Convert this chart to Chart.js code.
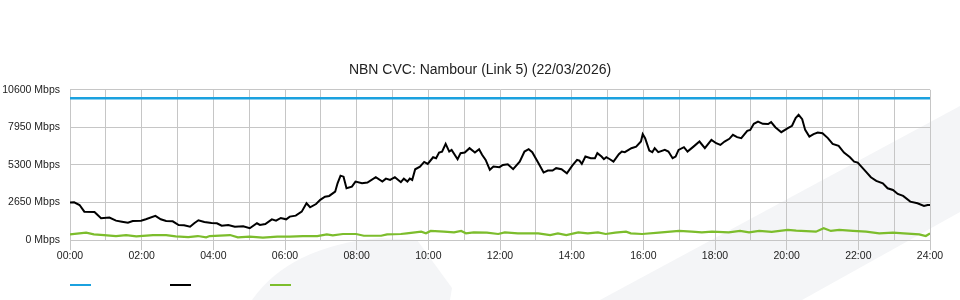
<!DOCTYPE html>
<html>
<head>
<meta charset="utf-8">
<title>NBN CVC: Nambour (Link 5)</title>
<script src="https://cdn.jsdelivr.net/npm/chart.js@4.4.1/dist/chart.umd.min.js"></script>
<style>
  body { margin: 0; background: #fff; }
  canvas { display: block; }
</style>
</head>
<body>
<canvas id="cvcChart" width="960" height="300"></canvas>
<script>
// chart text
var chartTitle = 'NBN CVC: Nambour (Link 5) (22/03/2026)';

// y axis ticks (Mbps)
var yTicks = [0, 2650, 5300, 7950, 10600];

// capacity (blue)
var capMinutes = [0, 1440];
var capMbps = [10000, 10000];

// download traffic (black), minutes after midnight
var downMinutes = [0, 7, 16, 24, 41, 52, 66, 77, 87, 97, 105, 119, 127, 143, 152, 161, 172, 182, 191, 201,
  208, 215, 225, 237, 246, 254, 265, 276, 290, 301, 313, 318, 327, 338, 345, 353, 362, 368, 378, 388,
  396, 402, 412, 419, 427, 434, 444, 448, 453, 458, 463, 472, 478, 489, 498, 512, 523, 529, 536, 544,
  554, 559, 565, 569, 573, 578, 586, 593, 599, 608, 613, 618, 623, 629, 635, 639, 649, 654, 661, 669,
  678, 685, 690, 696, 703, 709, 719, 725, 733, 742, 753, 761, 768, 774, 784, 793, 800, 808, 814, 823,
  832, 841, 849, 853, 857, 863, 872, 879, 883, 890, 894, 898, 904, 910, 919, 924, 929, 940, 948, 956,
  959, 963, 970, 975, 979, 985, 996, 1002, 1009, 1014, 1019, 1028, 1034, 1044, 1054, 1063, 1074, 1082, 1089, 1096,
  1104, 1110, 1117, 1124, 1134, 1139, 1145, 1152, 1160, 1169, 1174, 1181, 1191, 1202, 1209, 1215, 1220, 1226, 1231, 1238,
  1245, 1252, 1260, 1269, 1277, 1287, 1296, 1306, 1313, 1319, 1330, 1341, 1350, 1361, 1369, 1378, 1386, 1395, 1407, 1419,
  1430, 1436, 1440];
var downMbps = [2640, 2660, 2470, 2000, 1980, 1530, 1580, 1365, 1290, 1220, 1340, 1365, 1460, 1700, 1460, 1340, 1320, 1060, 1040, 940,
  1180, 1390, 1270, 1200, 1180, 1010, 1060, 940, 970, 830, 1180, 1060, 1130, 1460, 1365, 1555, 1460, 1650, 1720, 2000,
  2590, 2310, 2540, 2830, 3060, 3110, 3410, 4000, 4540, 4470, 3650, 3770, 4120, 4000, 4050, 4430, 4120, 4330, 4240, 4430,
  4080, 4330, 4120, 4330, 4240, 4990, 5180, 5510, 5370, 5840, 5770, 6170, 6240, 6780, 6240, 6360, 5700, 6130, 6170, 6480,
  6170, 6410, 6010, 5650, 4950, 5180, 5140, 5300, 5350, 5000, 5530, 6240, 6410, 6200, 5460, 4760, 4900, 4900, 5070, 5000,
  4710, 5250, 5650, 5600, 5370, 5890, 5770, 5770, 6130, 5890, 5700, 5840, 5700, 5530, 6060, 6240, 6200, 6480, 6590, 6950,
  7470, 7190, 6310, 6200, 6480, 6200, 6360, 6240, 5770, 5890, 6360, 6550, 6240, 6590, 6950, 6480, 7070, 6830, 6710, 6950,
  7140, 7420, 7260, 7190, 7700, 7770, 8200, 8360, 8200, 8180, 8320, 7960, 7610, 7890, 8060, 8600, 8830, 8530, 7770, 7300,
  7470, 7580, 7540, 7190, 6780, 6640, 6170, 5840, 5530, 5460, 4950, 4430, 4170, 4000, 3650, 3530, 3250, 3110, 2710, 2590,
  2400, 2470, 2470];

// upload traffic (green)
var upMinutes = [0, 27, 40, 57, 77, 94, 111, 139, 161, 177, 198, 214, 228, 234, 268, 281, 301, 323, 347, 368,
  390, 414, 430, 440, 457, 479, 492, 521, 531, 554, 564, 588, 596, 604, 626, 643, 655, 663, 676, 698,
  717, 728, 750, 784, 804, 817, 831, 851, 867, 884, 897, 913, 931, 939, 958, 986, 1020, 1041, 1058, 1075,
  1103, 1122, 1137, 1154, 1175, 1202, 1216, 1249, 1262, 1274, 1288, 1311, 1333, 1355, 1378, 1396, 1422, 1433, 1440];
var upMbps = [400, 520, 400, 350, 280, 350, 260, 350, 350, 260, 210, 280, 190, 280, 350, 190, 235, 165, 235, 235,
  280, 280, 400, 330, 424, 424, 300, 300, 400, 424, 470, 590, 470, 640, 590, 540, 640, 470, 540, 520,
  424, 540, 470, 470, 350, 470, 350, 540, 470, 540, 424, 520, 590, 470, 424, 520, 640, 590, 540, 590,
  540, 640, 540, 640, 570, 710, 660, 590, 830, 640, 710, 640, 590, 470, 520, 470, 400, 280, 470];

function toPoints(xs, ys) {
  return xs.map(function (x, i) { return { x: x, y: ys[i] }; });
}

function hhmm(minutes) {
  var h = Math.round(minutes / 60);
  return (h < 10 ? '0' : '') + h + ':00';
}

Chart.defaults.font.family = '"Liberation Sans", Arial, sans-serif';
Chart.defaults.color = '#222';

var gridColor = '#c6c6c6';

// light watermark shapes behind the plot
var watermark = {
  id: 'watermark',
  beforeDraw: function (chart) {
    var c = chart.ctx;
    c.save();
    c.fillStyle = '#fff';
    c.fillRect(0, 0, chart.width, chart.height);
    c.fillStyle = '#f4f5f7';
    c.beginPath();
    c.moveTo(600, 300);
    c.lineTo(960, 106);
    c.lineTo(960, 212);
    c.lineTo(802, 300);
    c.closePath();
    c.fill();
    c.beginPath();
    c.moveTo(252, 300);
    c.quadraticCurveTo(290, 246, 380, 238);
    c.lineTo(417, 240);
    c.lineTo(452, 288);
    c.lineTo(450, 300);
    c.closePath();
    c.fill();
    c.restore();
  }
};

// legend keys without text, one short line per series
var legendKeys = {
  id: 'legendKeys',
  afterDraw: function (chart) {
    var c = chart.ctx;
    c.save();
    chart.data.datasets.forEach(function (ds, i) {
      c.strokeStyle = ds.borderColor;
      c.lineWidth = 2;
      c.beginPath();
      c.moveTo(70 + i * 100, 285);
      c.lineTo(91 + i * 100, 285);
      c.stroke();
    });
    c.restore();
  }
};

var ctx = document.getElementById('cvcChart').getContext('2d');
var cvcChart = new Chart(ctx, {
  type: 'line',
  data: {
    datasets: [{
      label: 'Capacity',
      data: toPoints(capMinutes, capMbps),
      borderColor: '#1ba1df',
      borderWidth: 2.5
    }, {
      label: 'Download',
      data: toPoints(downMinutes, downMbps),
      borderColor: '#000000',
      borderWidth: 2
    }, {
      label: 'Upload',
      data: toPoints(upMinutes, upMbps),
      borderColor: '#7cbd2c',
      borderWidth: 2.2
    }]
  },
  options: {
    responsive: false,
    animation: false,
    elements: { point: { radius: 0 }, line: { tension: 0 } },
    layout: { padding: { left: 0, right: 0, top: 0, bottom: 35 } },
    plugins: {
      legend: { display: false },
      tooltip: { enabled: false },
      title: {
        display: true,
        text: chartTitle,
        color: '#222',
        font: { size: 14, weight: 'normal' },
        padding: { top: 62, bottom: 11 }
      }
    },
    scales: {
      x: {
        type: 'linear',
        min: 0,
        max: 1440,
        afterFit: function (scale) { scale.height = 25; },
        grid: {
          color: gridColor,
          tickLength: 10,
          tickColor: function (c) { return c.tick && c.tick.value % 120 === 0 ? gridColor : 'rgba(0,0,0,0)'; }
        },
        border: { color: gridColor },
        ticks: {
          stepSize: 60,
          autoSkip: false,
          maxRotation: 0,
          padding: 0,
          font: { size: 10.5 },
          callback: function (v) { return v % 120 === 0 ? hhmm(v) : ''; }
        }
      },
      y: {
        min: yTicks[0],
        max: yTicks[yTicks.length - 1],
        afterFit: function (scale) { scale.width = 70; },
        afterBuildTicks: function (scale) {
          scale.ticks = yTicks.map(function (v) { return { value: v }; });
        },
        grid: { color: gridColor, drawTicks: false },
        border: { color: gridColor },
        ticks: {
          padding: 10,
          font: { size: 10.5 },
          callback: function (v) { return v + ' Mbps'; }
        }
      },
      // empty right-hand margin so the title stays centred on the page
      yRight: {
        position: 'right',
        min: yTicks[0],
        max: yTicks[yTicks.length - 1],
        afterFit: function (scale) { scale.width = 30; },
        grid: { display: false },
        border: { display: false },
        ticks: { display: false }
      }
    }
  },
  plugins: [watermark, legendKeys]
});
</script>
</body>
</html>
